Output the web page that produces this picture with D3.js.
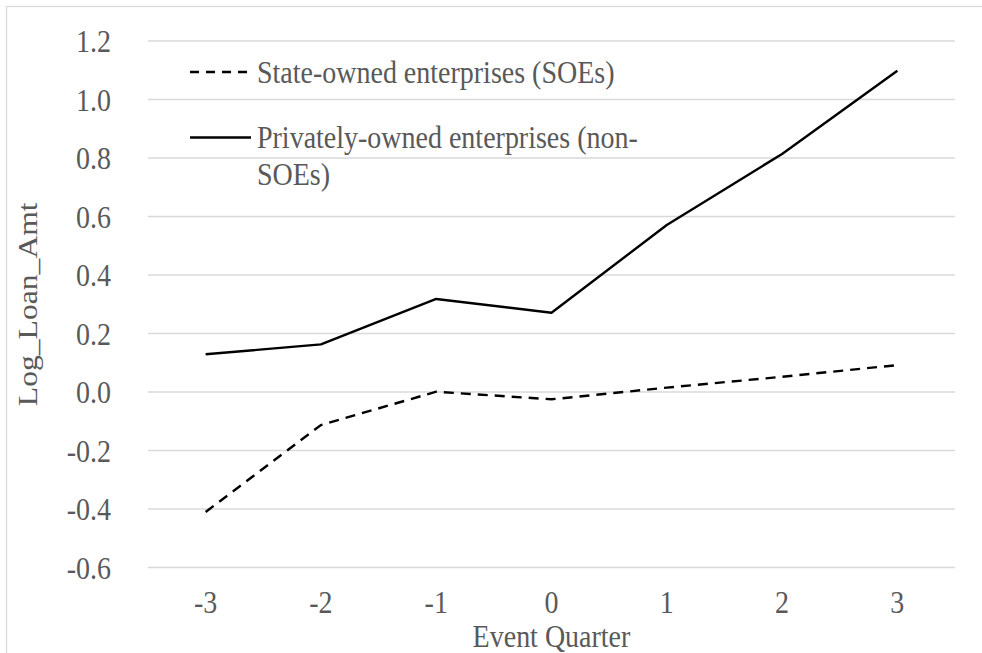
<!DOCTYPE html>
<html><head><meta charset="utf-8">
<script src="https://cdn.jsdelivr.net/npm/d3@7"></script>
<style>html,body{margin:0;padding:0;background:#fff;}svg{display:block;} text{font-family:"Liberation Serif","Tinos","Times New Roman","DejaVu Serif",serif;}</style>
</head><body>
<script>
const quarters = ["-3","-2","-1","0","1","2","3"];
const soe = [-0.41, -0.113, 0.001, -0.025, 0.015, 0.052, 0.092];
const nonSoe = [0.129, 0.163, 0.318, 0.271, 0.571, 0.814, 1.098];
const yTicks = [-0.6,-0.4,-0.2,0.0,0.2,0.4,0.6,0.8,1.0,1.2];
const seriesNames = ["State-owned enterprises (SOEs)", ["Privately-owned enterprises (non-","SOEs)"]];

const W = 982, H = 653;
const K = 1.13; // vertical text stretch seen in the reference
const m = {left:148, right:982-955, top:41, bottom:653-567.5};
const svg = d3.select("body").append("svg").attr("width",W).attr("height",H);
const textColor = "#595959";
const stretchAt = (yb) => `translate(0,${yb}) scale(1,${K}) translate(0,${-yb})`;

svg.append("rect").attr("x",6.5).attr("y",6.5).attr("width",1200).attr("height",1200)
  .attr("fill","none").attr("stroke","#d9d9d9").attr("stroke-width",1.3);

const x = d3.scaleBand().domain(quarters).range([m.left, W-m.right]).padding(0);
const y = d3.scaleLinear().domain([-0.6,1.2]).range([H-m.bottom, m.top]);

// gridlines
svg.append("g").selectAll("line").data(yTicks).join("line")
  .attr("x1",m.left).attr("x2",W-m.right)
  .attr("y1",d=>y(d)).attr("y2",d=>y(d))
  .attr("stroke","#d9d9d9").attr("stroke-width",1.3);

// y axis
const fmt = d => d3.format(".1f")(d).replace("\u2212","-");
const yAxis = d3.axisLeft(y).tickValues(yTicks).tickFormat(fmt).tickSize(0).tickPadding(0);
const gy = svg.append("g").attr("transform",`translate(${111},0)`).call(yAxis);
gy.select(".domain").remove();
gy.attr("font-family",null);
gy.selectAll("text").attr("font-size",28).attr("fill",textColor).attr("dy","0.34em")
  .attr("transform",`scale(1,${K})`);

// x axis
const xAxis = d3.axisBottom(x).tickSize(0).tickPadding(0);
const gx = svg.append("g").attr("transform",`translate(0,${613})`).call(xAxis);
gx.select(".domain").remove();
gx.attr("font-family",null);
gx.selectAll("text").attr("font-size",28).attr("fill",textColor).attr("dy",0).attr("y",0)
  .attr("transform",`scale(1,${K})`);

// axis titles
svg.append("text").attr("x",(m.left+W-m.right)/2).attr("y",647).attr("text-anchor","middle")
  .attr("transform",stretchAt(647))
  .attr("font-size",28).attr("fill",textColor).text("Event Quarter");
svg.append("text").attr("transform",`translate(37,${(y(1.2)+y(-0.6))/2}) rotate(-90) scale(${K},1)`).attr("text-anchor","middle")
  .attr("font-size",28).attr("fill",textColor).text("Log_Loan_Amt");

const line = d3.line().x((d,i)=>x(quarters[i])+x.bandwidth()/2).y(d=>y(d));
svg.append("path").datum(soe).attr("d",line).attr("fill","none").attr("stroke","#000")
  .attr("stroke-width",2.4).attr("stroke-dasharray","10,7");
svg.append("path").datum(nonSoe).attr("d",line).attr("fill","none").attr("stroke","#000")
  .attr("stroke-width",2.4).attr("stroke-linejoin","round");

// legend
const lg = svg.append("g");
lg.append("line").attr("x1",190).attr("x2",248).attr("y1",72).attr("y2",72)
  .attr("stroke","#000").attr("stroke-width",2.4).attr("stroke-dasharray","9,7");
lg.append("text").attr("x",257).attr("y",83).attr("transform",stretchAt(83))
  .attr("font-size",28).attr("fill",textColor).text(seriesNames[0]);
lg.append("line").attr("x1",190).attr("x2",251).attr("y1",137.5).attr("y2",137.5)
  .attr("stroke","#000").attr("stroke-width",2.4);
seriesNames[1].forEach((s,i)=>lg.append("text").attr("x",257).attr("y",148+i*37)
  .attr("transform",stretchAt(148+i*37))
  .attr("font-size",28).attr("fill",textColor).text(s));
</script>
</body></html>
